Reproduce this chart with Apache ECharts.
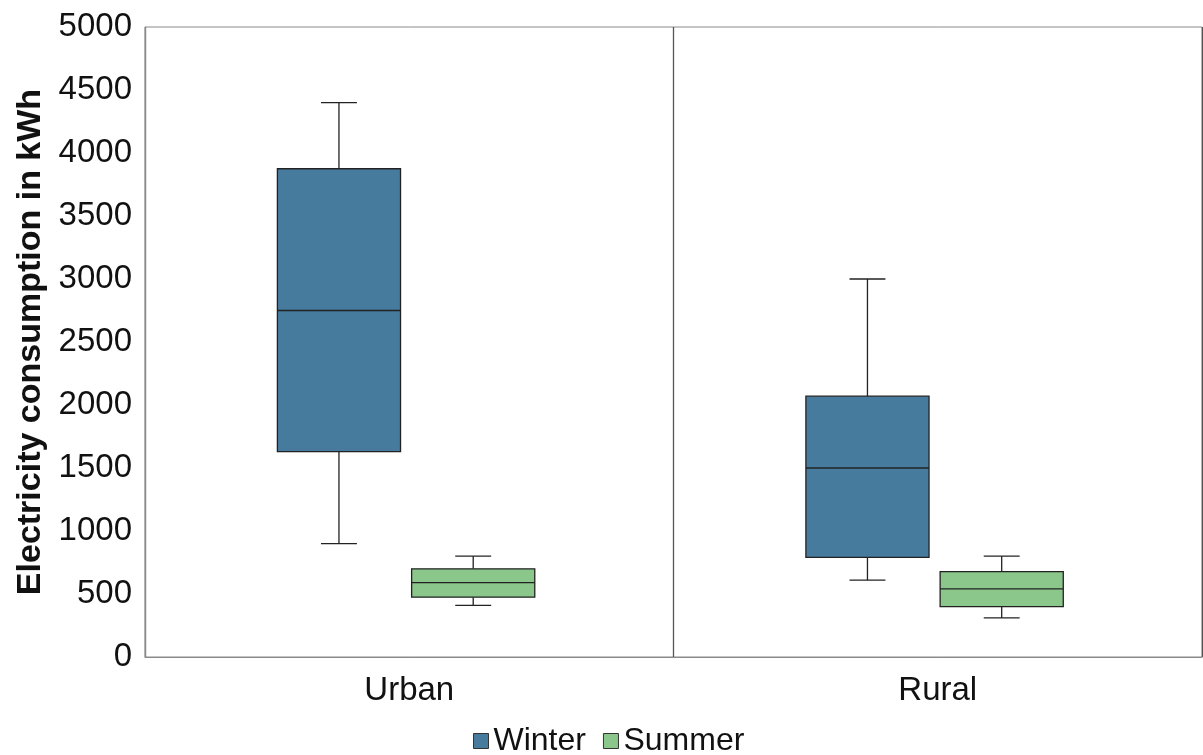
<!DOCTYPE html>
<html>
<head>
<meta charset="utf-8">
<script src="https://cdn.jsdelivr.net/npm/echarts@6/dist/echarts.min.js"></script>
<style>
html,body{margin:0;padding:0;background:#fff;}
#main{width:1203px;height:755px;}
</style>
</head>
<body>
<div id="main"></div>
<script>
// ---- data ----
const categories = ['Urban', 'Rural'];
const seriesNames = ['Winter', 'Summer'];
// [min, Q1, median, Q3, max] per category
const winterStats = [
  [900, 1630, 2750, 3875, 4400],
  [610, 790, 1500, 2070, 3000]
];
const summerStats = [
  [410, 475, 590, 700, 800],
  [310, 400, 540, 677, 800]
];
const yTicks = [0, 500, 1000, 1500, 2000, 2500, 3000, 3500, 4000, 4500, 5000];

// ---- chart ----
const chart = echarts.init(document.getElementById('main'), null, {renderer: 'canvas'});
const FONT = '"Liberation Sans", Arial, sans-serif';

function toData(stats) {
  return stats.map((s, i) => [i].concat(s));
}

function makeRender(offsetFrac, fill) {
  return function (params, api) {
    const cat = api.value(0);
    const band = api.size([1, 0])[0];
    const cx = api.coord([cat, 0])[0] + offsetFrac * band;
    const boxW = band * 0.233;
    const capW = band * 0.068;
    const y = v => api.coord([cat, v])[1];
    const yMin = y(api.value(1)), yQ1 = y(api.value(2)), yMed = y(api.value(3)),
          yQ3 = y(api.value(4)), yMax = y(api.value(5));
    const ls = {stroke: '#222', lineWidth: 1.3};
    return {
      type: 'group',
      children: [
        {type: 'line', shape: {x1: cx, y1: yQ3, x2: cx, y2: yMax}, style: ls},
        {type: 'line', shape: {x1: cx - capW / 2, y1: yMax, x2: cx + capW / 2, y2: yMax}, style: ls},
        {type: 'line', shape: {x1: cx, y1: yQ1, x2: cx, y2: yMin}, style: ls},
        {type: 'line', shape: {x1: cx - capW / 2, y1: yMin, x2: cx + capW / 2, y2: yMin}, style: ls},
        {type: 'rect', shape: {x: cx - boxW / 2, y: yQ3, width: boxW, height: yQ1 - yQ3},
          style: {fill: fill, stroke: '#222', lineWidth: 1.3}},
        {type: 'line', shape: {x1: cx - boxW / 2, y1: yMed, x2: cx + boxW / 2, y2: yMed}, style: ls}
      ]
    };
  };
}

const colors = ['#467b9d', '#8bc68b'];

const option = {
  animation: false,
  backgroundColor: '#fff',
  grid: {left: 145, right: 1, top: 27, bottom: 98, show: true, borderColor: '#8a8a8a', borderWidth: 1,
    containLabel: false, outerBoundsMode: 'none'},
  legend: {
    data: seriesNames,
    left: 468,
    top: 720,
    icon: 'rect',
    itemWidth: 15,
    itemHeight: 15,
    itemGap: 17,
    textStyle: {fontSize: 32, color: '#111', fontFamily: FONT, padding: [0, 0, 0, 0]},
    itemStyle: {borderColor: '#333', borderWidth: 1}
  },
  xAxis: {
    type: 'category',
    data: categories,
    axisLine: {show: true, lineStyle: {color: '#8a8a8a', width: 1}},
    axisTick: {show: false},
    splitLine: {show: true, lineStyle: {color: '#555', width: 1.3}},
    axisLabel: {fontSize: 33, color: '#111', fontFamily: FONT, margin: 17}
  },
  yAxis: {
    type: 'value',
    min: yTicks[0],
    max: yTicks[yTicks.length - 1],
    interval: yTicks[1] - yTicks[0],
    name: 'Electricity consumption in kWh',
    nameLocation: 'middle',
    nameGap: 95,
    nameTextStyle: {fontSize: 34, fontWeight: 'bold', color: '#111', fontFamily: FONT},
    axisLine: {show: true, lineStyle: {color: '#8a8a8a'}},
    axisTick: {show: false},
    splitLine: {show: false},
    axisLabel: {fontSize: 33, color: '#111', fontFamily: FONT, margin: 13, formatter: v => String(v)}
  },
  series: [
    {
      name: seriesNames[0],
      type: 'custom',
      itemStyle: {color: colors[0]},
      renderItem: makeRender(-0.133, colors[0]),
      encode: {x: 0, y: [1, 2, 3, 4, 5]},
      data: toData(winterStats)
    },
    {
      name: seriesNames[1],
      type: 'custom',
      itemStyle: {color: colors[1]},
      renderItem: makeRender(0.121, colors[1]),
      encode: {x: 0, y: [1, 2, 3, 4, 5]},
      data: toData(summerStats)
    }
  ]
};
chart.setOption(option);
</script>
</body>
</html>
